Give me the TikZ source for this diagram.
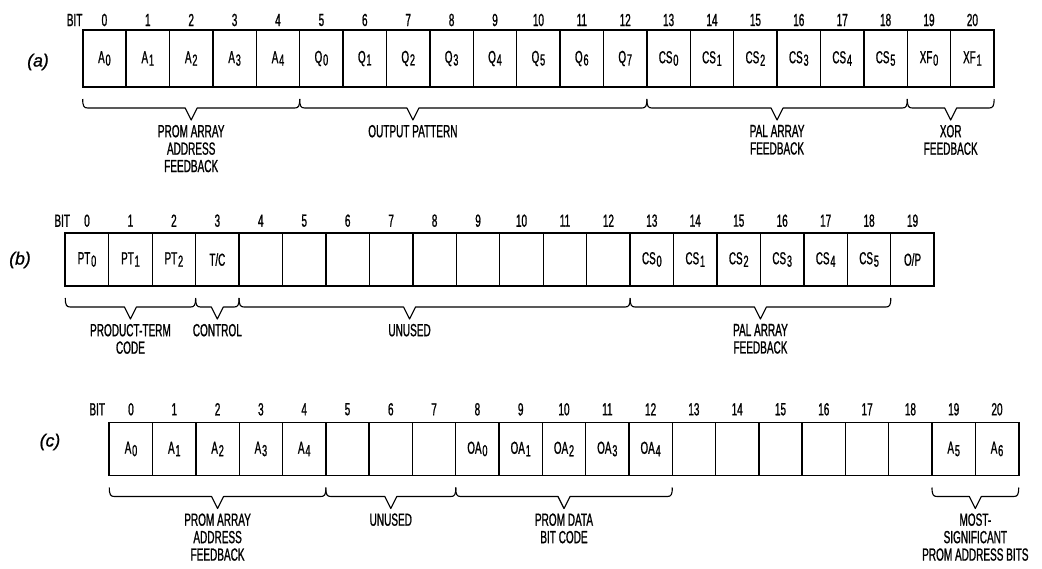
\documentclass[tikz,border=0pt]{standalone}
\usepackage{fontspec}
\setmainfont[FakeStretch=0.57,FakeBold=1]{Liberation Sans}
\newfontfamily\tagfont[FakeBold=1]{Liberation Sans}
\usepackage{tikz}
\usetikzlibrary{calc}

% lowered index inside a cell
\newcommand{\lo}[1]{\kern.6pt\raisebox{-1.8pt}{\fontsize{11.4}{12}\selectfont#1}}
% brace under cells #2..#3, tip at fraction #1, label node #4
\newcommand{\grp}[5][0.5]{%
  \draw[brc] let \p1=(#2.south west), \p2=(#3.south east), \p3=($(\p1)!#1!(\p2)$) in
    ({\x1},{\y1-3mm}) .. controls ({\x1},{\y1-4.8mm}) and ({\x1+0.3mm},{\y1-5.25mm}) .. ({\x1+1.25mm},{\y1-5.25mm})
    -- ({\x3-1.5mm},{\y1-5.25mm}) -- ({\x3},{\y1-8.25mm}) node[lbl] (#4) {#5}
    -- ({\x3+1.5mm},{\y1-5.25mm}) -- ({\x2-1.25mm},{\y1-5.25mm})
    .. controls ({\x2-0.3mm},{\y1-5.25mm}) and ({\x2},{\y1-4.8mm}) .. ({\x2},{\y1-3mm});}

\begin{document}
\begin{tikzpicture}[x=0.25mm,y=-0.25mm,
        cell/.style={draw,line width=0.9pt,minimum width=10.85mm,minimum height=13.25mm,inner sep=0pt,outer sep=0pt,font=\fontsize{12.3}{13}\selectfont},
        num/.style={inner sep=0pt,font=\fontsize{12.5}{13}\selectfont},
        lbl/.style={below=1.1mm,inner sep=0pt,align=center,font=\fontsize{12.5}{12.4}\selectfont},
        tag/.style={font=\tagfont\itshape\fontsize{12.5}{14}\selectfont},
        brc/.style={line width=0.8pt,line join=round}
      ]
        \useasboundingbox (0,0) rectangle (1042,569);
        % (a)
        \node[tag] (ta) at (38,62) {(a)};
        \foreach \t [count=\i from 0] in {A\lo0,A\lo1,A\lo2,A\lo3,A\lo4,Q\lo0,Q\lo1,Q\lo2,Q\lo3,Q\lo4,Q\lo5,Q\lo6,Q\lo7,
            CS\lo0,CS\lo1,CS\lo2,CS\lo3,CS\lo4,CS\lo5,XF\lo0,XF\lo1}{
          \node[cell,minimum height=14.25mm] (a\i) at ({104.4+43.4*\i},58.5) {\t};
          \node[num] (na\i) at ({104.4+43.4*\i},20) {\i};
        }
        \draw[line width=1.4pt] (a0.north west) rectangle (a20.south east);
        \node[num,anchor=base east] (abit) at (na0.base -| a0.west) {BIT};
        \grp{a0}{a4}{la1}{PROM ARRAY\\ADDRESS\\FEEDBACK}
        \grp[0.326]{a5}{a12}{la2}{OUTPUT PATTERN}
        \grp{a13}{a18}{la3}{PAL ARRAY\\FEEDBACK}
        \grp{a19}{a20}{la4}{XOR\\FEEDBACK}
        % (b)
        \node[tag] (tb) at (20,260) {(b)};
        \foreach \t [count=\i from 0] in {PT\lo0,PT\lo1,PT\lo2,T/C,,,,,,,,,,
            CS\lo0,CS\lo1,CS\lo2,CS\lo3,CS\lo4,CS\lo5,O/P}{
          \node[cell] (b\i) at ({87.0+43.45*\i},259.5) {\t};
          \node[num] (nb\i) at ({87.0+43.45*\i},220.7) {\i};
        }
        \draw[line width=1.4pt] (b0.north west) rectangle (b19.south east);
        \node[num,anchor=base east] (bbit) at ($(nb0.base -| b0.west)+(5,0)$) {BIT};
        \grp{b0}{b2}{lb1}{PRODUCT-TERM\\CODE}
        \grp{b3}{b3}{lb2}{CONTROL}
        \grp[0.436]{b4}{b12}{lb3}{UNUSED}
        \grp{b13}{b18}{lb4}{PAL ARRAY\\FEEDBACK}
        % (c)
        \node[tag] (tc) at (50,442) {(c)};
        \foreach \t [count=\i from 0] in {A\lo0,A\lo1,A\lo2,A\lo3,A\lo4,,,,OA\lo0,OA\lo1,OA\lo2,OA\lo3,OA\lo4,
            ,,,,,,A\lo5,A\lo6}{
          \node[cell] (c\i) at ({131.0+43.3*\i},449) {\t};
          \node[num] (nc\i) at ({131.0+43.3*\i},409.3) {\i};
        }
        \draw[line width=1.4pt] (c0.north west) rectangle (c20.south east);
        \node[num,anchor=base east] (cbit) at ($(nc0.base -| c0.west)+(-4,0)$) {BIT};
        \grp{c0}{c4}{lc1}{PROM ARRAY\\ADDRESS\\FEEDBACK}
        \grp{c5}{c7}{lc2}{UNUSED}
        \grp{c8}{c12}{lc3}{PROM DATA\\BIT CODE}
        \grp{c19}{c20}{lc4}{MOST-\\SIGNIFICANT\\PROM ADDRESS BITS}
      \end{tikzpicture}
\end{document}
